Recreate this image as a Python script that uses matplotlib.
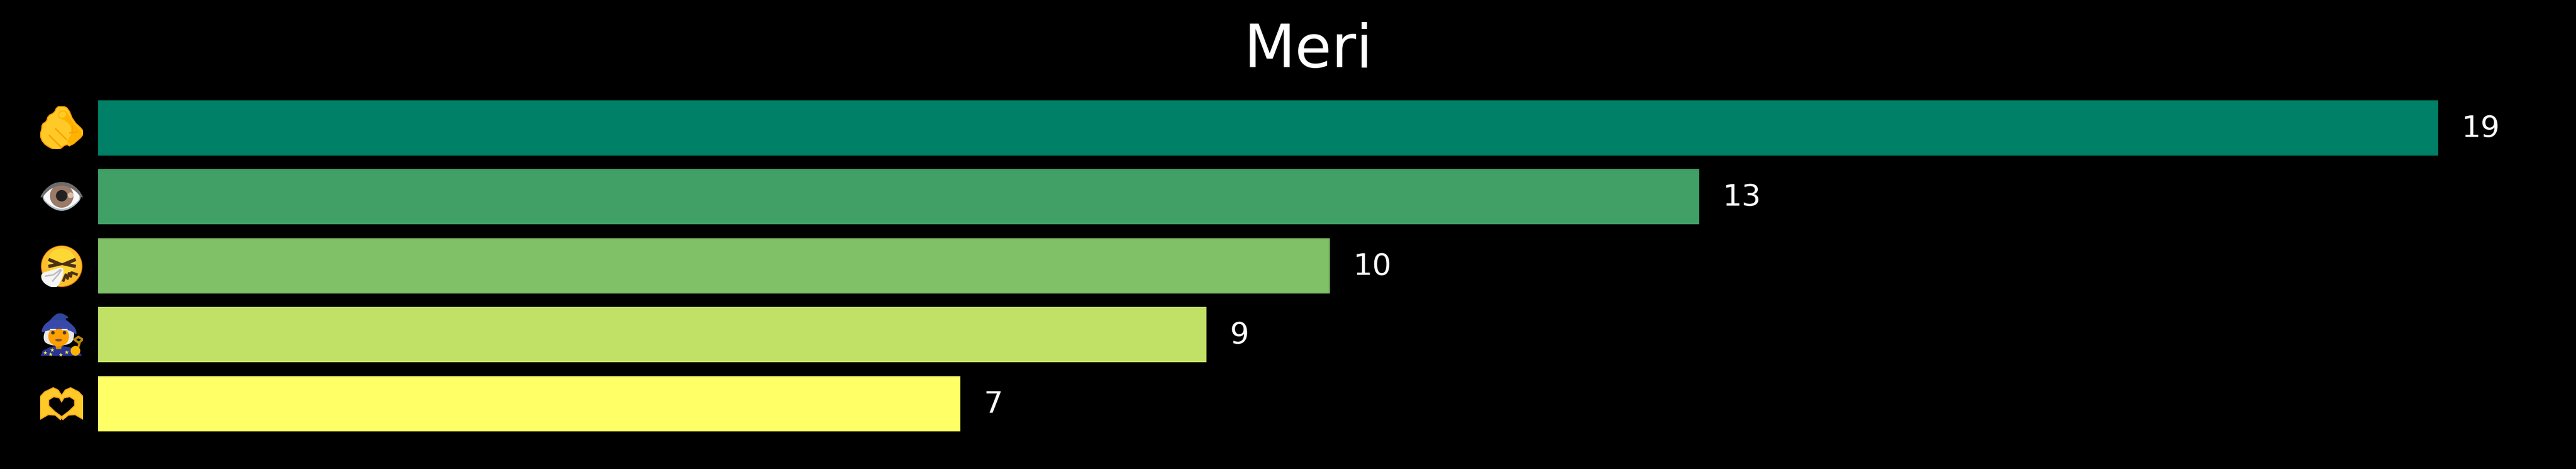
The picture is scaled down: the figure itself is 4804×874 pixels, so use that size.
import numpy as np
import matplotlib
matplotlib.use("Agg")
import matplotlib.pyplot as plt
from matplotlib.patches import Polygon, Circle, Ellipse

title = "Meri"
categories = ["point", "eye", "sneeze", "mage", "heart_hands"]
values = [19, 13, 10, 9, 7]

W, H = 4804, 874
DPI = 100
BG = "black"
colors = plt.cm.summer(np.linspace(0, 1, len(values)))

fig = plt.figure(figsize=(W / DPI, H / DPI), dpi=DPI, facecolor=BG)
# axes box in pixels
L, R, T, B = 183, 4695, 174, 816.5
ax = fig.add_axes([L / W, 1 - B / H, (R - L) / W, (B - T) / H], facecolor=BG)
ypos = np.arange(len(values))
ax.barh(ypos, values, height=0.8, color=colors)
ax.set_xlim(0, (R - L) / 229.7)
ax.set_ylim(len(values) - 0.5, -0.5)
ax.axis("off")
for y, v in zip(ypos, values):
    ax.text(v + 0.19, y + 0.012, str(v), color="white", fontsize=40.5, va="center", ha="left", clip_on=False)
ax.set_title(title, color="white", fontsize=80, pad=35)


def smooth(pts, n=3):
    p = np.asarray(pts, float)
    for _ in range(n):
        q = np.roll(p, -1, axis=0)
        p = np.column_stack([0.75 * p + 0.25 * q, 0.25 * p + 0.75 * q]).reshape(-1, 2)
    return p


def blob(a, pts, fc, ec=None, lw=0, z=1, n=3):
    a.add_patch(Polygon(smooth(pts, n) if n else pts, closed=True, fc=fc, ec=ec or fc, lw=lw, zorder=z))


def icon_axes(i, cy):
    """Square 80 px icon, centred on bar i; drawn in local units of 1/3 px."""
    _, py = ax.transData.transform((0, ypos[i]))
    s = 80
    px = 115
    a = fig.add_axes([(px - s / 2) / W, (py - s / 2) / H, s / W, s / H], facecolor="none")
    a.set_xlim(105, 345)
    a.set_ylim(cy + 120, cy - 120)
    a.axis("off")
    for child in ():
        pass
    return a


def draw_point(a):
    y = "#FFCA28"; o = "#FFB300"
    blob(a, [(228, 80), (198, 88), (184, 120), (150, 136), (140, 170), (116, 182), (112, 222), (102, 240),
             (120, 288), (168, 320), (208, 328), (250, 294), (274, 308), (350, 242), (344, 216), (290, 166),
             (262, 96)], y, "#FFA000", 1.5, n=1)
    blob(a, [(205, 130), (225, 105), (255, 110), (285, 172), (338, 222), (340, 245), (290, 295), (270, 300),
             (250, 280), (285, 235), (275, 190), (240, 160), (210, 150)], o, z=2)
    blob(a, [(205, 130), (222, 108), (250, 112), (255, 135), (235, 152), (212, 150)], y, o, 1.5, z=3)
    for seg in ([(155, 245), (222, 312)], [(190, 208), (250, 268)], [(285, 195), (283, 235)], [(270, 232), (315, 226)]):
        a.plot(*zip(*seg), color="#FFA000", lw=2, zorder=4, solid_capstyle="round")


def draw_eye(a):
    blob(a, [(105, 590), (160, 530), (225, 507), (290, 530), (345, 590), (290, 650), (225, 674), (160, 650)],
         "#B0BEC5", n=2)
    blob(a, [(113, 592), (165, 535), (225, 515), (285, 535), (337, 592), (285, 642), (225, 662), (165, 642)],
         "#FAFAFA", n=2, z=2)
    a.add_patch(Circle((225, 585), 66, fc="#9A7B68", zorder=3))
    a.add_patch(Circle((225, 584), 32, fc="#212121", zorder=4))
    a.add_patch(Circle((275, 581), 16, fc="#DDBFA8", zorder=5))
    blob(a, [(105, 590), (130, 550), (175, 515), (225, 505), (275, 515), (320, 550), (345, 590), (338, 597),
             (300, 555), (265, 535), (225, 525), (185, 535), (150, 555), (112, 597)], "#6D6D6D", n=1, z=6)


def draw_face(a):
    a.add_patch(Circle((225, 193), 116, fc="#F57C00", zorder=1))
    a.add_patch(Circle((225, 192), 112, fc="#FBC02D", zorder=1))
    a.add_patch(Circle((225, 170), 78, fc="#FDD835", zorder=1))
    d = "#4E3115"
    a.plot([160, 213, 160], [158, 180, 192], color=d, lw=4.5, solid_joinstyle="miter", zorder=3)
    a.plot([295, 242, 295], [158, 180, 192], color=d, lw=4.5, solid_joinstyle="miter", zorder=3)
    a.plot([235, 248, 258, 266, 276, 280, 308], [272, 240, 262, 232, 250, 228, 238], color=d, lw=3.5, zorder=3)
    blob(a, [(235, 193), (170, 215), (105, 232), (118, 285), (180, 317), (205, 305), (235, 245)], "#F5F5F5", n=2, z=4)
    a.plot([135, 180, 218], [248, 240, 212], color="#BDBDBD", lw=2, zorder=5)
    a.plot([175, 205, 222], [275, 240, 215], color="#BDBDBD", lw=2, zorder=5)


def draw_mage(a):
    blob(a, [(108, 698), (118, 670), (160, 650), (210, 640), (270, 650), (320, 665), (338, 698)], "#283593", n=0, z=1)
    blob(a, [(130, 560), (122, 600), (135, 630), (200, 645), (285, 630), (298, 570), (280, 540), (150, 540)],
         "#E8E8E8", n=2, z=2)
    a.add_patch(Ellipse((208, 590), 116, 112, fc="#FFA000", zorder=3))
    a.add_patch(Polygon([(190, 640), (226, 640), (222, 660), (194, 660)], fc="#E08E00", zorder=2))
    blob(a, [(108, 570), (125, 525), (160, 500), (195, 462), (225, 458), (270, 485), (240, 490), (265, 508),
             (305, 545), (310, 585), (280, 558), (210, 545), (140, 558)], "#3949AB", n=2, z=4)
    blob(a, [(155, 500), (195, 464), (225, 460), (268, 484), (240, 490), (262, 508), (210, 495)], "#2F479A", n=2, z=5)
    for ex in (176, 241):
        a.add_patch(Circle((ex, 569), 10, fc="#404040", zorder=6))
    a.plot([163, 190], [550, 550], color="white", lw=1.5, zorder=6)
    a.plot([228, 254], [550, 550], color="white", lw=1.5, zorder=6)
    blob(a, [(186, 604), (230, 604), (222, 618), (194, 618)], "#795548", n=1, z=6)
    a.plot([318, 325, 296, 318, 342, 322], [650, 628, 608, 592, 606, 626], color="#B8860B", lw=3, zorder=7)
    a.add_patch(Circle((302, 670), 27, fc="#FFB300", zorder=8))
    a.scatter([132, 172, 162, 218, 252], [680, 665, 688, 692, 676], marker="*", s=35, c="#FFEB3B", lw=0, zorder=3)
    a.set_ylim(700, 460)


def draw_hearts(a):
    blob(a, [(102, 1050), (102, 925), (130, 895), (178, 872), (205, 885), (225, 915), (245, 885), (275, 872),
             (320, 895), (348, 925), (348, 1050), (300, 1022), (262, 1025), (232, 1050), (225, 1040), (218, 1050),
             (190, 1025), (150, 1022)], "#FFCA28", "#F9A825", 1.5, n=0)
    blob(a, [(225, 950), (212, 928), (180, 922), (152, 940), (152, 972), (185, 1004), (225, 1034), (265, 1004),
             (298, 972), (298, 940), (270, 922), (238, 928)], BG, "#F9A825", 1.5, n=0, z=2)


draws = [draw_point, draw_eye, draw_face, draw_mage, draw_hearts]
centers = [204, 590, 190, 580, 961]
for i, (fn, cy) in enumerate(zip(draws, centers)):
    fn(icon_axes(i, cy))

fig.savefig("out.png", dpi=DPI, facecolor=BG)
